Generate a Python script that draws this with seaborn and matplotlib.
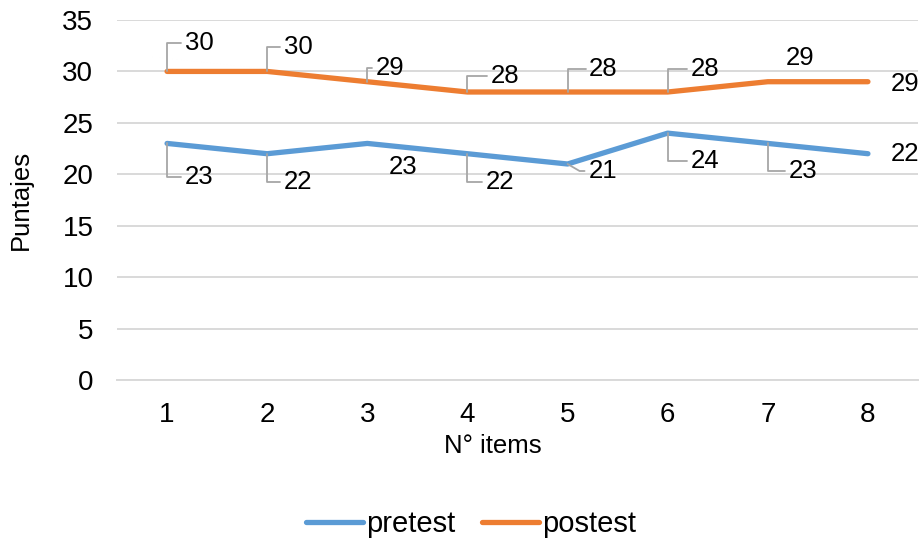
import numpy as np
import pandas as pd
import matplotlib
matplotlib.use("Agg")
import matplotlib.pyplot as plt
import seaborn as sns
from matplotlib.lines import Line2D
from matplotlib.transforms import IdentityTransform

# Data
items = [1, 2, 3, 4, 5, 6, 7, 8]
pretest = [23, 22, 23, 22, 21, 24, 23, 22]
postest = [30, 30, 29, 28, 28, 28, 29, 29]
series_names = ["pretest", "postest"]
colors = ["#5B9BD5", "#ED7D31"]

df = pd.DataFrame({
    "item": items * 2,
    "score": pretest + postest,
    "serie": [series_names[0]] * len(items) + [series_names[1]] * len(items),
})

sns.set_theme(style="white")
plt.rcParams["font.family"] = ["Liberation Sans", "DejaVu Sans"]
plt.rcParams["text.color"] = "black"
plt.rcParams["axes.labelcolor"] = "black"

W, H = 921, 542
fig = plt.figure(figsize=(W / 100, H / 100), dpi=100)
ax = fig.add_axes([117 / W, 162 / H, (918 - 117) / W, (522 - 162) / H])

sns.lineplot(data=df, x="item", y="score", hue="serie", palette=colors,
             linewidth=3.8, ax=ax, legend=False, sort=False,
             solid_capstyle="round", zorder=3)

ax.set_xlim(0.5, 8.5)
ax.set_ylim(0, 35)
ax.set_yticks(np.arange(0, 36, 5))
ax.set_xticks(items)
ax.yaxis.grid(True, color="#D9D9D9", linewidth=1.4, zorder=0)
ax.xaxis.grid(False)
for s in ["top", "right", "left"]:
    ax.spines[s].set_visible(False)
ax.spines["bottom"].set_color("#D9D9D9")
ax.spines["bottom"].set_linewidth(1.4)
ax.tick_params(axis="both", length=0, labelsize=20, colors="black")
ax.tick_params(axis="y", pad=17)
ax.tick_params(axis="x", pad=16)
ax.set_xlabel("N° items", fontsize=18.5, labelpad=4, x=(493 - 117) / 801)
ax.set_ylabel("Puntajes", fontsize=18.5, labelpad=21)

# Data labels: offsets (px) from the point to the label centre, and leader style
post_offsets = [(32, 28, "up"), (31, 24, "up"), (23, 14, "up"), (38, 16, "up"),
                (36, 23, "up"), (37, 23, "up"), (32, 24, None), (37, -2, None)]
pre_offsets = [(32, -34, "down"), (31, -28, "down"), (36, -24, None), (33, -28, "down"),
               (35, -7, "diag"), (37, -28, "down"), (35, -28, "down"), (37, 0, None)]

leader_kw = dict(color="#A6A6A6", linewidth=1.3, transform=IdentityTransform(), zorder=4)

def label_series(values, offsets):
    for x, v, (dx, dy, kind) in zip(items, values, offsets):
        px, py = ax.transData.transform((x, v))
        lx, ly = px + dx, py + dy
        ax.text(lx, ly, f"{v}", transform=IdentityTransform(), fontsize=18.5,
                ha="center", va="center", color="black", zorder=5)
        left = lx - 18
        if kind in ("up", "down"):
            fig.add_artist(Line2D([px, px, left], [py, ly, ly], **leader_kw))
        elif kind == "diag":
            fig.add_artist(Line2D([px, px + 12, left], [py, ly, ly], **leader_kw))

label_series(postest, post_offsets)
label_series(pretest, pre_offsets)

handles = [Line2D([0], [0], color=c, linewidth=3.8, solid_capstyle="round") for c in colors]
fig.legend(handles, series_names, loc="center", bbox_to_anchor=(471 / W, 1 - 524 / H),
           ncol=2, frameon=False, fontsize=21, handlelength=1.95, handletextpad=0.12,
           columnspacing=0.9, borderpad=0)

fig.savefig("out.png", dpi=100)
